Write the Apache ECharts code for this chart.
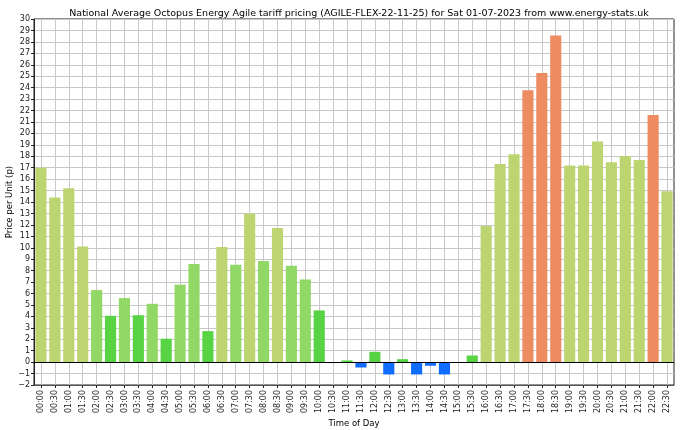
<!DOCTYPE html>
<html><head><meta charset="utf-8">
<script src="https://cdn.jsdelivr.net/npm/echarts@6/dist/echarts.min.js"></script>
<style>html,body{margin:0;padding:0;background:#fff}#c{width:680px;height:430px}</style>
</head><body><div id="c"></div>
<script>
const times = ["00:00","00:30","01:00","01:30","02:00","02:30","03:00","03:30","04:00","04:30",
  "05:00","05:30","06:00","06:30","07:00","07:30","08:00","08:30","09:00","09:30",
  "10:00","10:30","11:00","11:30","12:00","12:30","13:00","13:30","14:00","14:30",
  "15:00","15:30","16:00","16:30","17:00","17:30","18:00","18:30","19:00","19:30",
  "20:00","20:30","21:00","21:30","22:00","22:30"];
const prices = [17.0,14.4,15.2,10.1,6.3,4.05,5.6,4.1,5.1,2.05,
  6.77,8.57,2.71,10.06,8.52,13.0,8.84,11.72,8.43,7.23,
  4.52,-0.08,0.15,-0.47,0.9,-1.08,0.26,-1.08,-0.32,-1.08,
  0.0,0.58,11.9,17.32,18.17,23.77,25.28,28.55,17.2,17.2,
  19.3,17.47,18.02,17.67,21.6,14.93];
const yTicks = {min: -2, max: 30, step: 1};
const titleText = "National Average Octopus Energy Agile tariff pricing (AGILE-FLEX-22-11-25) for Sat 01-07-2023 from www.energy-stats.uk";

function colorFor(v) {
  if (v < 0) return "#0f6dff";
  if (v < 5) return "#57d344";
  if (v < 10) return "#91d866";
  if (v <= 20) return "#bdd571";
  return "#ec8c60";
}
const font = "DejaVu Sans";
const chart = echarts.init(document.getElementById("c"), null, {renderer: "canvas"});
chart.setOption({
  animation: false,
  backgroundColor: "#fff",
  title: {text: titleText, left: 354, top: 4, textAlign: "center",
    textStyle: {fontFamily: font, fontSize: 9.5, fontWeight: "normal", color: "#000"}},
  grid: {left: 34, right: 6, top: 19, bottom: 45, containLabel: false, outerBoundsMode: "none",
    show: true, borderColor: "#222", borderWidth: 1, backgroundColor: "transparent"},
  xAxis: {
    type: "category", data: times, boundaryGap: true,
    name: "Time of Day", nameLocation: "middle", nameGap: 34, nameMoveOverlap: false,
    nameTextStyle: {fontFamily: font, fontSize: 8.5, color: "#000"},
    axisLine: {onZero: false, lineStyle: {color: "#555", width: 1}},
    axisTick: {show: true, alignWithLabel: true, length: 3, lineStyle: {color: "#222"}},
    axisLabel: {rotate: 90, interval: 0, margin: 5, fontFamily: font, fontSize: 8, color: "#222"},
    splitLine: {show: true, alignWithLabel: true, interval: 0, lineStyle: {color: "#c8c8c8", width: 1}}
  },
  yAxis: {
    type: "value", min: yTicks.min, max: yTicks.max, interval: yTicks.step,
    name: "Price per Unit (p)", nameLocation: "middle", nameGap: 20, nameMoveOverlap: false,
    nameTextStyle: {fontFamily: font, fontSize: 8.5, color: "#000"},
    axisLine: {show: true, lineStyle: {color: "#222"}},
    axisTick: {show: true, length: 3, lineStyle: {color: "#222"}},
    axisLabel: {fontFamily: font, fontSize: 8, color: "#222", margin: 4,
      formatter: v => String(v).replace("-", "\u2212")},
    splitLine: {show: true, lineStyle: {color: "#c8c8c8", width: 1}}
  },
  series: [{
    type: "bar", barCategoryGap: "20%",
    data: prices.map(v => ({value: v, itemStyle: {color: colorFor(v)}})),
    markLine: {silent: true, symbol: "none", label: {show: false},
      lineStyle: {color: "#000", width: 1, type: "solid"},
      data: [{yAxis: 0}]}
  }]
});
</script></body></html>
